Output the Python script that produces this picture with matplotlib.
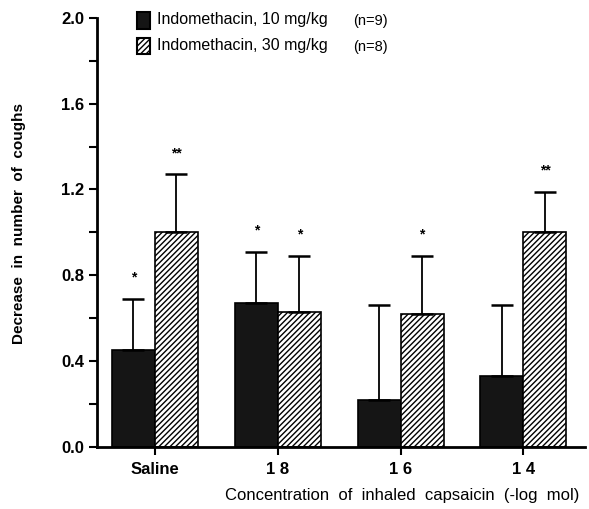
import numpy as np
import matplotlib.pyplot as plt
from matplotlib.patches import Rectangle

plt.rcParams['font.family'] = ['Liberation Sans', 'DejaVu Sans']

# data
groups = ['Saline', '1 8', '1 6', '1 4']
dose10 = [0.45, 0.67, 0.22, 0.33]
dose10_err = [0.24, 0.24, 0.44, 0.33]
dose30 = [1.00, 0.63, 0.62, 1.00]
dose30_err = [0.27, 0.26, 0.27, 0.19]
stars10 = ['*', '*', '', '']
stars30 = ['**', '*', '*', '**']

fig = plt.figure(figsize=(5.89, 5.09), dpi=100)
ax = fig.add_axes([0.165, 0.122, 0.828, 0.843])

x = np.arange(len(groups))
w = 0.35

ax.bar(x - w/2, dose10, w, color='#151515', edgecolor='black', linewidth=1.2)
ax.bar(x + w/2, dose30, w, color='white', edgecolor='black', linewidth=1.2, hatch='//////')
ax.errorbar(x - w/2, dose10, yerr=[np.zeros(4), dose10_err], fmt='none',
            ecolor='black', elinewidth=1.3, capsize=8, capthick=1.8)
ax.errorbar(x + w/2, dose30, yerr=[np.zeros(4), dose30_err], fmt='none',
            ecolor='black', elinewidth=1.3, capsize=8, capthick=1.8)

for i in range(len(groups)):
    if stars10[i]:
        ax.text(x[i] - w/2, dose10[i] + dose10_err[i] + 0.1, stars10[i],
                ha='center', va='center', fontsize=10, fontweight='bold')
    if stars30[i]:
        ax.text(x[i] + w/2, dose30[i] + dose30_err[i] + 0.1, stars30[i],
                ha='center', va='center', fontsize=10, fontweight='bold')

ax.set_xlim(-0.47, 3.5)
ax.set_ylim(0, 2.0)
ax.set_yticks(np.arange(0, 2.01, 0.4))
ax.set_yticks(np.arange(0, 2.01, 0.2), minor=True)
ax.set_yticklabels(['%.1f' % v for v in np.arange(0, 2.01, 0.4)], fontsize=12, fontweight='bold')
ax.set_xticks(x)
ax.set_xticklabels(groups, fontsize=12, fontweight='bold')
ax.tick_params(axis='y', which='both', direction='out', length=6, width=1.5)
ax.tick_params(axis='x', direction='out', length=6, width=1.5, pad=5)
for s in ['top', 'right']:
    ax.spines[s].set_visible(False)
for s in ['left', 'bottom']:
    ax.spines[s].set_linewidth(2)

ax.set_ylabel('Decrease  in  number  of  coughs', fontsize=11, fontweight='bold')
ax.yaxis.set_label_coords(-0.145, 0.52)
ax.set_xlabel('Concentration  of  inhaled  capsaicin  (-log  mol)', fontsize=12)
ax.xaxis.set_label_coords(0.625, -0.095)

# legend drawn by hand
leg = [('Indomethacin, 10 mg/kg', '(n=9)', '#151515', None),
       ('Indomethacin, 30 mg/kg', '(n=8)', 'white', '//////')]
for k, (lab, n, fc, h) in enumerate(leg):
    yy = 0.995 - k * 0.06
    ax.add_patch(Rectangle((0.082, yy - 0.02), 0.027, 0.038, transform=ax.transAxes,
                           facecolor=fc, edgecolor='black', hatch=h, clip_on=False, linewidth=1.5))
    ax.text(0.122, yy, lab, transform=ax.transAxes, fontsize=11.5, va='center')
    ax.text(0.525, yy - 0.003, n, transform=ax.transAxes, fontsize=10.5, va='center')

fig.savefig('out.png', dpi=100)
